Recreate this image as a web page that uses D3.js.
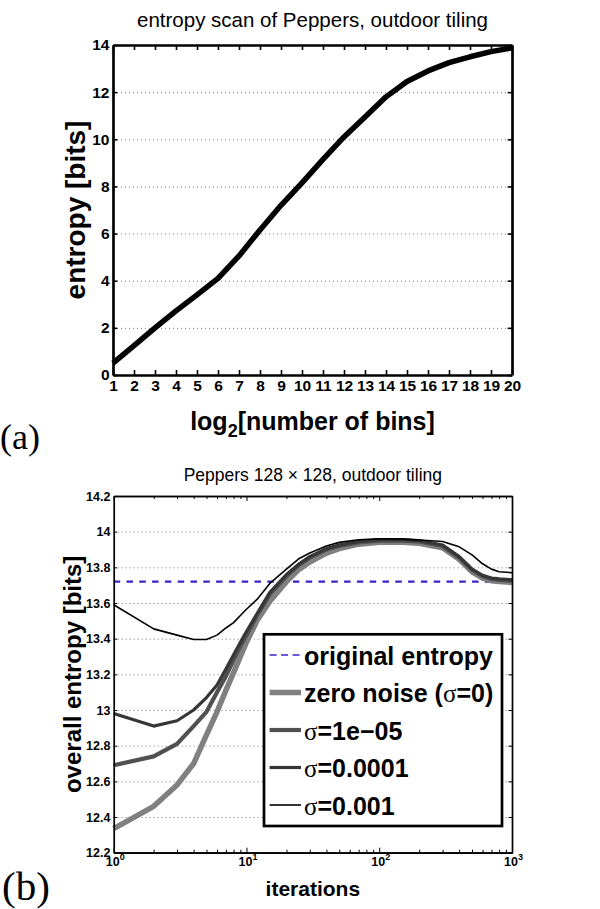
<!DOCTYPE html>
<html><head><meta charset="utf-8">
<script src="https://cdn.jsdelivr.net/npm/d3@7"></script>
<style>
body{margin:0;background:#fff}
svg{display:block}
text{font-family:"Liberation Sans",Arial,Helvetica,sans-serif;fill:#000}
</style>
</head><body>
<svg id="fig" width="600" height="909"></svg>
<script>
// ---------- panel (a): entropy scan over bin counts ----------
const binExponents = d3.range(1, 21);
const entropyBits = [0.5, 1.25, 2.0, 2.72, 3.4, 4.1, 5.05, 6.15, 7.2, 8.15,
                     9.15, 10.1, 10.95, 11.8, 12.45, 12.9, 13.25, 13.5, 13.72, 13.88];
const entropyTicks = [0, 2, 4, 6, 8, 10, 12, 14];

// ---------- panel (b): overall entropy during iterations ----------
const iterations = [1, 2, 3, 4, 5, 6, 7, 8, 9, 10, 12, 15, 20, 25, 30, 40, 50, 70,
                    100, 150, 200, 300, 400, 500, 600, 700, 800, 1000];
const zeroNoise = [12.335, 12.46, 12.58, 12.70, 12.86, 12.99, 13.11, 13.21, 13.30, 13.38,
                   13.50, 13.61, 13.72, 13.79, 13.83, 13.88, 13.905, 13.93, 13.94, 13.94,
                   13.935, 13.91, 13.845, 13.775, 13.74, 13.725, 13.72, 13.715];
const sigma1e5 = [12.69, 12.74, 12.81, 12.91, 12.99, 13.10, 13.19, 13.28, 13.36, 13.42,
                  13.53, 13.65, 13.75, 13.815, 13.855, 13.90, 13.92, 13.94, 13.95, 13.95,
                  13.945, 13.92, 13.855, 13.785, 13.75, 13.735, 13.73, 13.725];
const sigma1e4 = [12.98, 12.91, 12.94, 13.00, 13.07, 13.14, 13.23, 13.31, 13.38, 13.44,
                  13.54, 13.66, 13.76, 13.82, 13.86, 13.905, 13.925, 13.945, 13.955, 13.955,
                  13.95, 13.925, 13.86, 13.79, 13.755, 13.74, 13.735, 13.73];
const sigma1e3 = [13.59, 13.455, 13.42, 13.395, 13.395, 13.42, 13.46, 13.49, 13.53, 13.565,
                  13.62, 13.71, 13.79, 13.85, 13.88, 13.92, 13.94, 13.955, 13.96, 13.958,
                  13.953, 13.945, 13.915, 13.87, 13.82, 13.79, 13.775, 13.77];
const originalEntropy = 13.72;
const overallTicks = [12.2, 12.4, 12.6, 12.8, 13, 13.2, 13.4, 13.6, 13.8, 14, 14.2];
const iterMajorTicks = [1, 10, 100, 1000];
const legendLabels = ["original entropy", "zero noise (σ=0)", "σ=1e−05", "σ=0.0001", "σ=0.001"];

const svg = d3.select("#fig");

// ================= panel (a) =================
const xA = d3.scaleLinear().domain([1, 20]).range([113, 512]);
const yA = d3.scaleLinear().domain([0, 14]).range([375, 45]);
const gA = svg.append("g");

// dotted horizontal grid
gA.append("g")
  .attr("transform", `translate(${xA(1)},0)`)
  .call(d3.axisLeft(yA).tickValues(entropyTicks.slice(1, -1)).tickSize(-(xA(20) - xA(1))).tickFormat(""))
  .call(g => g.select(".domain").remove())
  .call(g => g.selectAll("line").attr("stroke", "#777").attr("stroke-width", 1).attr("stroke-dasharray", "1,3"));

// entropy curve
gA.append("path")
  .datum(binExponents.map((b, i) => [b, entropyBits[i]]))
  .attr("fill", "none").attr("stroke", "#000").attr("stroke-width", 5.5)
  .attr("stroke-linejoin", "round")
  .attr("d", d3.line().x(d => xA(d[0])).y(d => yA(d[1])));

// frame with inward ticks
const axA = [
  gA.append("g").attr("transform", `translate(0,${yA(0)})`)
    .call(d3.axisBottom(xA).tickValues(binExponents).tickSizeInner(-5).tickSizeOuter(0).tickPadding(5).tickFormat(d3.format("d"))),
  gA.append("g").attr("transform", `translate(0,${yA(14)})`)
    .call(d3.axisTop(xA).tickValues(binExponents).tickSizeInner(-5).tickSizeOuter(0).tickFormat("")),
  gA.append("g").attr("transform", `translate(${xA(1)},0)`)
    .call(d3.axisLeft(yA).tickValues(entropyTicks).tickSizeInner(-4.3).tickSizeOuter(0).tickPadding(3.5)),
  gA.append("g").attr("transform", `translate(${xA(20)},0)`)
    .call(d3.axisRight(yA).tickValues(entropyTicks).tickSizeInner(-4.3).tickSizeOuter(0).tickFormat(""))
];
axA.forEach(a => {
  a.select(".domain").attr("stroke", "#000").attr("stroke-width", 2.7);
  a.selectAll(".tick line").attr("stroke", "#000").attr("stroke-width", 1.6);
  a.selectAll(".tick text").style("font-family", "Liberation Sans, Arial, sans-serif")
    .style("font-size", "15.5px").style("font-weight", "bold").attr("fill", "#000");
});

gA.append("text").attr("x", (xA(1) + xA(20)) / 2).attr("y", 27).attr("text-anchor", "middle")
  .style("font-size", "20.5px").text("entropy scan of Peppers, outdoor tiling");

gA.append("text").attr("transform", `translate(85,${(yA(0) + yA(14)) / 2}) rotate(-90)`)
  .attr("text-anchor", "middle").style("font-size", "28px").style("font-weight", "bold")
  .text("entropy [bits]");

const xlabA = gA.append("text").attr("x", (xA(1) + xA(20)) / 2).attr("y", 430).attr("text-anchor", "middle")
  .style("font-size", "25px").style("font-weight", "bold");
xlabA.append("tspan").text("log");
xlabA.append("tspan").attr("dy", 7).style("font-size", "18px").text("2");
xlabA.append("tspan").attr("dy", -7).text("[number of bins]");

svg.append("text").attr("x", 0).attr("y", 449)
  .style("font-family", "Liberation Serif, Times New Roman, serif").style("font-size", "36px")
  .text("(a)");

// ================= panel (b) =================
const xB = d3.scaleLog().domain([1, 1000]).range([113.7, 512]);
const yB = d3.scaleLinear().domain([12.2, 14.2]).range([852.7, 496]);
const gB = svg.append("g");

gB.append("g")
  .attr("transform", `translate(${xB(1)},0)`)
  .call(d3.axisLeft(yB).tickValues(overallTicks.slice(1, -1)).tickSize(-(xB(1000) - xB(1))).tickFormat(""))
  .call(g => g.select(".domain").remove())
  .call(g => g.selectAll("line").attr("stroke", "#777").attr("stroke-width", 1).attr("stroke-dasharray", "1,3"));

// original-entropy reference level
gB.append("line")
  .attr("x1", xB(1)).attr("x2", xB(1000)).attr("y1", yB(originalEntropy)).attr("y2", yB(originalEntropy))
  .attr("stroke", "#3d22cc").attr("stroke-width", 2.2).attr("stroke-dasharray", "6.5,6.3");

const runs = [
  { values: zeroNoise, color: "#808080", width: 5.5 },
  { values: sigma1e5, color: "#505050", width: 4.2 },
  { values: sigma1e4, color: "#363636", width: 3.2 },
  { values: sigma1e3, color: "#000000", width: 1.6 }
];
const lineB = d3.line().x(d => xB(d[0])).y(d => yB(d[1]));
runs.forEach(r => {
  gB.append("path")
    .datum(iterations.map((it, i) => [it, r.values[i]]))
    .attr("fill", "none").attr("stroke", r.color).attr("stroke-width", r.width)
    .attr("stroke-linejoin", "round")
    .attr("d", lineB);
});

// log axis: majors at decades, minors between
const minorTicks = xB.ticks().filter(t => !iterMajorTicks.includes(t));
function frameB(axisFn, pos, vals, size) {
  return gB.append("g").attr("transform", pos)
    .call(axisFn.tickValues(vals).tickSizeInner(size).tickSizeOuter(0).tickFormat(""));
}
const axB = [
  frameB(d3.axisBottom(xB), `translate(0,${yB(12.2)})`, minorTicks, -3),
  frameB(d3.axisBottom(xB), `translate(0,${yB(12.2)})`, iterMajorTicks, -5),
  frameB(d3.axisTop(xB), `translate(0,${yB(14.2)})`, minorTicks, -3),
  frameB(d3.axisTop(xB), `translate(0,${yB(14.2)})`, iterMajorTicks, -5),
  gB.append("g").attr("transform", `translate(${xB(1)},0)`)
    .call(d3.axisLeft(yB).tickValues(overallTicks).tickSizeInner(-3.5).tickSizeOuter(0).tickPadding(3.3).tickFormat(d3.format("~g"))),
  gB.append("g").attr("transform", `translate(${xB(1000)},0)`)
    .call(d3.axisRight(yB).tickValues(overallTicks).tickSizeInner(-3.5).tickSizeOuter(0).tickFormat(""))
];
axB.forEach(a => {
  a.select(".domain").attr("stroke", "#000").attr("stroke-width", 1.7);
  a.selectAll(".tick line").attr("stroke", "#000").attr("stroke-width", 1);
  a.selectAll(".tick text").style("font-family", "Liberation Sans, Arial, sans-serif")
    .style("font-size", "12.5px").style("font-weight", "bold").attr("fill", "#000");
});

// decade labels 10^k
gB.append("g").selectAll("text").data(iterMajorTicks).join("text")
  .attr("x", d => xB(d) + 1.5).attr("y", 866).attr("text-anchor", "middle")
  .style("font-size", "12.5px").style("font-weight", "bold")
  .call(t => {
    t.append("tspan").text("10");
    t.append("tspan").attr("dy", -6).style("font-size", "9px").text(d => Math.round(Math.log10(d)));
  });

gB.append("text").attr("x", (xB(1) + xB(1000)) / 2).attr("y", 481).attr("text-anchor", "middle")
  .style("font-size", "17.5px").text("Peppers 128 × 128, outdoor tiling");

gB.append("text").attr("transform", `translate(81,${(yB(12.2) + yB(14.2)) / 2}) rotate(-90)`)
  .attr("text-anchor", "middle").style("font-size", "24px").style("font-weight", "bold")
  .text("overall entropy [bits]");

gB.append("text").attr("x", (xB(1) + xB(1000)) / 2).attr("y", 896).attr("text-anchor", "middle")
  .style("font-size", "21px").style("font-weight", "bold").text("iterations");

svg.append("text").attr("x", 2).attr("y", 900)
  .style("font-family", "Liberation Serif, Times New Roman, serif").style("font-size", "41px")
  .text("(b)");

// legend
const legend = gB.append("g");
legend.append("rect").attr("x", 264).attr("y", 634.3).attr("width", 238).attr("height", 191.7)
  .attr("fill", "#fff").attr("stroke", "#000").attr("stroke-width", 2.7);
const legendStyles = [
  { color: "#3d22cc", width: 1.4, dash: "7,4.5" },
  { color: "#808080", width: 5.5, dash: null },
  { color: "#505050", width: 4.2, dash: null },
  { color: "#363636", width: 3.2, dash: null },
  { color: "#000000", width: 1.6, dash: null }
];
legendLabels.forEach((lab, i) => {
  const yy = 655 + i * 37.5;
  legend.append("line").attr("x1", 269.6).attr("x2", 301).attr("y1", yy).attr("y2", yy)
    .attr("stroke", legendStyles[i].color).attr("stroke-width", legendStyles[i].width)
    .attr("stroke-dasharray", legendStyles[i].dash);
  const t = legend.append("text").attr("x", 304).attr("y", yy + 9.5)
    .style("font-size", "25px").style("font-weight", "bold");
  lab.split(/(σ)/).forEach(part => {
    if (!part) return;
    const sp = t.append("tspan").text(part);
    if (part === "σ") sp.style("font-family", "Liberation Serif, Times New Roman, serif").style("font-weight", "normal");
  });
});
</script>
</body></html>
